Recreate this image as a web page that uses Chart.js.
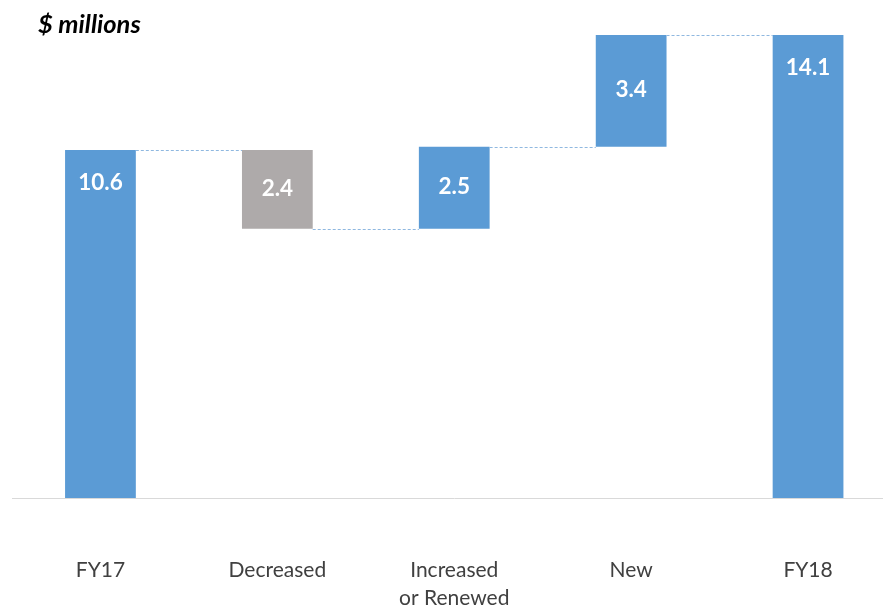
<!DOCTYPE html>
<html>
<head>
<meta charset="utf-8">
<script src="https://cdn.jsdelivr.net/npm/chart.js@4.4.1/dist/chart.umd.min.js"></script>
<style>
  html, body { margin: 0; padding: 0; background: #fff; overflow: hidden; width: 883px; height: 609px; }
  #wrap { position: absolute; left: 0; top: 0; width: 900px; height: 609px; }
  #title { position: absolute; left: 38px; top: 8px; font-family: Lato, "Open Sans", sans-serif; font-weight: 700; font-style: italic; font-size: 25.5px; color: #000; }
</style>
</head>
<body>
<div id="wrap"><canvas id="c" width="900" height="609"></canvas></div>
<div id="title">$ millions</div>
<script>
const categories = ["FY17", "Decreased", ["Increased", "or Renewed"], "New", "FY18"];
const changes = [10.6, -2.4, 2.5, 3.4, 14.1];
const isTotal = [true, false, false, false, true];
const labels = ["10.6", "2.4", "2.5", "3.4", "14.1"];
const colorUp = "#5B9BD5";
const colorDown = "#AEAAAA";

// Build floating ranges from the change list
const ranges = [];
let running = 0;
changes.forEach((v, i) => {
  if (isTotal[i]) { ranges.push([0, v]); running = v; }
  else { const s = running; running = +(running + v).toFixed(4); ranges.push([s, running]); }
});
const colors = changes.map((v, i) => (!isTotal[i] && v < 0) ? colorDown : colorUp);

const overlay = {
  id: 'overlay',
  afterDatasetsDraw(chart) {
    const ctx = chart.ctx;
    const meta = chart.getDatasetMeta(0);
    const y = chart.scales.y;
    // connectors
    ctx.save();
    ctx.strokeStyle = "#8FB8E0";
    ctx.lineWidth = 1;
    ctx.setLineDash([3, 2]);
    for (let i = 0; i < meta.data.length - 1; i++) {
      const a = meta.data[i], b = meta.data[i + 1];
      const endVal = ranges[i][1];
      const yy = Math.round(y.getPixelForValue(endVal)) + 0.5;
      ctx.beginPath();
      ctx.moveTo(a.x + a.width / 2, yy);
      ctx.lineTo(b.x - b.width / 2, yy);
      ctx.stroke();
    }
    ctx.restore();
    // value labels
    ctx.save();
    ctx.fillStyle = "#fff";
    ctx.font = "700 22.5px Lato, 'Open Sans', sans-serif";
    ctx.textAlign = "center";
    ctx.textBaseline = "middle";
    meta.data.forEach((bar, i) => {
      const top = Math.min(bar.y, bar.base), bot = Math.max(bar.y, bar.base);
      const ly = isTotal[i] ? top + 33 : (top + bot) / 2 - 1;
      ctx.fillText(labels[i], bar.x, ly);
    });
    ctx.restore();
  }
};

new Chart(document.getElementById('c'), {
  type: 'bar',
  data: {
    labels: categories,
    datasets: [{
      data: ranges,
      backgroundColor: colors,
      borderWidth: 0,
      categoryPercentage: 0.8,
      barPercentage: 0.5
    }]
  },
  options: {
    responsive: false,
    animation: false,
    events: [],
    layout: { padding: { left: 12, right: 3.5, top: 5.5, bottom: 0 } },
    plugins: { legend: { display: false }, tooltip: { enabled: false }, title: { display: false } },
    scales: {
      x: {
        grid: { display: false, drawTicks: false },
        border: { display: true, color: "#D9D9D9", width: 1 },
        ticks: {
          color: "#404040",
          font: { family: "Lato, 'Open Sans', sans-serif", size: 21, lineHeight: 1.3 },
          padding: 59,
          maxRotation: 0,
          autoSkip: false
        },
        afterFit(scale) { scale.height = 111; }
      },
      y: {
        display: false,
        min: 0,
        max: 15
      }
    }
  },
  plugins: [overlay]
});
</script>
</body>
</html>
